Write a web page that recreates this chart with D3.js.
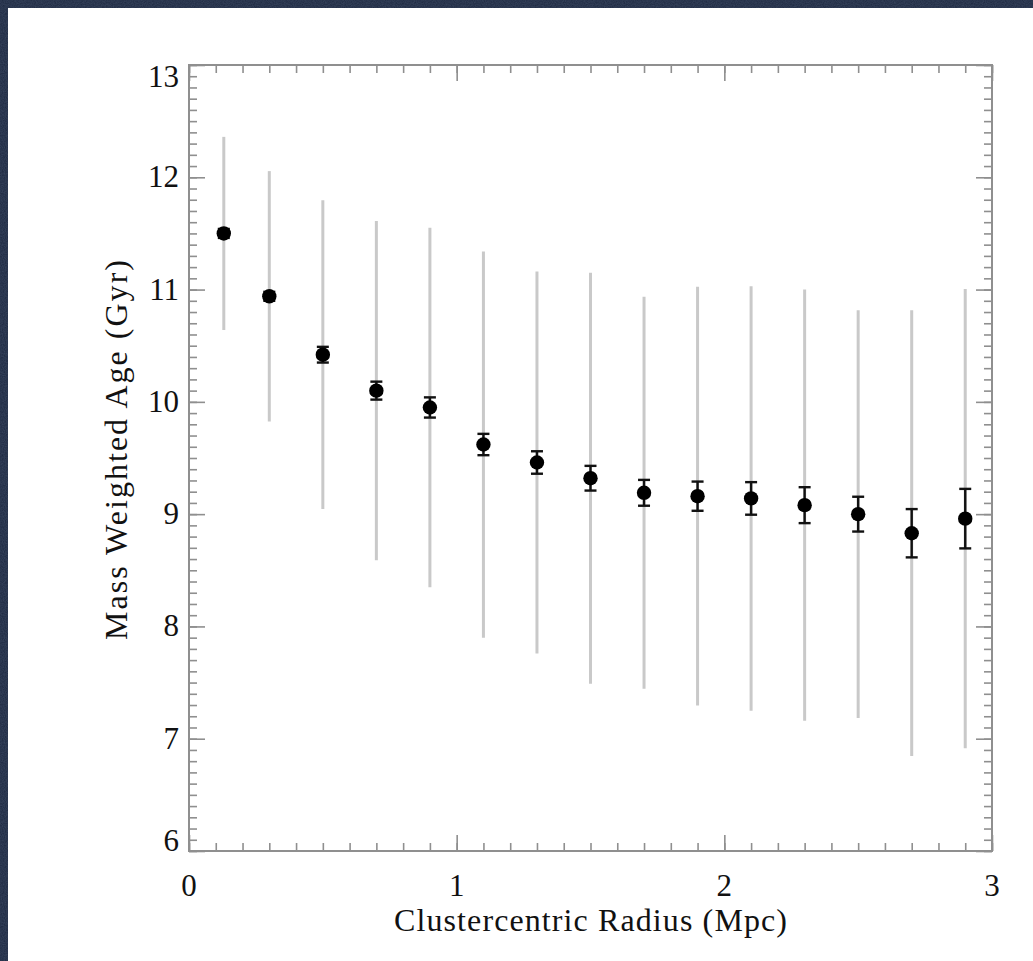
<!DOCTYPE html>
<html>
<head>
<meta charset="utf-8">
<script src="https://cdn.jsdelivr.net/npm/d3@7"></script>
<style>
  html, body { margin: 0; padding: 0; background: #1f2a42; }
  svg { display: block; }
</style>
</head>
<body>
<svg id="chart" width="1033" height="961"></svg>
<script>
// Mean mass-weighted age in radial bins around the cluster centre
const radius = [0.13, 0.3, 0.5, 0.7, 0.9, 1.1, 1.3, 1.5, 1.7, 1.9, 2.1, 2.3, 2.5, 2.7, 2.9];
const age = [11.50, 10.94, 10.42, 10.10, 9.95, 9.62, 9.46, 9.32, 9.19, 9.16, 9.14, 9.08, 9.00, 8.83, 8.96];
// error on the mean (black bars)
const ageErr = [0.04, 0.04, 0.07, 0.08, 0.09, 0.095, 0.10, 0.11, 0.115, 0.13, 0.145, 0.16, 0.155, 0.215, 0.265];
// scatter of the population (grey bars)
const ageScatter = [0.86, 1.115, 1.375, 1.51, 1.60, 1.72, 1.70, 1.83, 1.745, 1.865, 1.89, 1.92, 1.815, 1.985, 2.045];

const xTicks = [0, 1, 2, 3];
const yTicks = [6, 7, 8, 9, 10, 11, 12, 13];
const xTitle = "Clustercentric Radius (Mpc)";
const yTitle = "Mass Weighted Age (Gyr)";

const svg = d3.select("#chart");

// dark textured surround and white page
const defs = svg.append("defs");
const filt = defs.append("filter").attr("id", "grain");
filt.append("feTurbulence").attr("type", "fractalNoise").attr("baseFrequency", 0.9).attr("numOctaves", 2).attr("seed", 3);
filt.append("feColorMatrix").attr("type", "matrix")
  .attr("values", "0 0 0 0 0.16  0 0 0 0 0.22  0 0 0 0 0.33  0 0 0 0.55 0");
svg.append("rect").attr("width", 1033).attr("height", 961).attr("fill", "#1d2840");
svg.append("rect").attr("width", 1033).attr("height", 961).attr("filter", "url(#grain)").attr("opacity", 0.6);
svg.append("rect").attr("x", 8).attr("y", 8).attr("width", 1025).attr("height", 953).attr("fill", "#ffffff");

const plotLeft = 189, plotRight = 992, plotTop = 65, plotBottom = 851;
const x = d3.scaleLinear().domain([0, 3]).range([plotLeft, plotRight]);
const y = d3.scaleLinear().domain([6, 13]).range([plotBottom, plotTop]);

const axisColor = "#8f8f8f";
const xMinor = d3.range(0, 3.0001, 0.1).map(v => +v.toFixed(1));
const yMinor = d3.range(6, 13.0001, 0.1).map(v => +v.toFixed(1));

function styleAxis(g) {
  g.select(".domain").remove();
  g.selectAll(".tick line").attr("stroke", axisColor).attr("stroke-width", 1.6);
  g.selectAll(".tick text").remove();
}

// inward-pointing ticks on all four sides: minor then major
[[d3.axisBottom, `translate(0,${plotBottom})`, x, xMinor, xTicks],
 [d3.axisTop, `translate(0,${plotTop})`, x, xMinor, xTicks],
 [d3.axisLeft, `translate(${plotLeft},0)`, y, yMinor, yTicks],
 [d3.axisRight, `translate(${plotRight},0)`, y, yMinor, yTicks]].forEach(([gen, tr, sc, minor, major]) => {
  svg.append("g").attr("transform", tr)
    .call(gen(sc).tickValues(minor).tickSize(-8).tickFormat(""))
    .call(styleAxis);
  svg.append("g").attr("transform", tr)
    .call(gen(sc).tickValues(major).tickSize(-16).tickFormat(""))
    .call(styleAxis);
});

// frame
svg.append("rect")
  .attr("x", plotLeft).attr("y", plotTop)
  .attr("width", plotRight - plotLeft).attr("height", plotBottom - plotTop)
  .attr("fill", "none").attr("stroke", axisColor).attr("stroke-width", 2);

const font = "'Liberation Serif', 'Times New Roman', serif";

// tick labels
svg.append("g").selectAll("text").data(xTicks).join("text")
  .attr("x", d => x(d)).attr("y", 896)
  .attr("text-anchor", "middle")
  .attr("font-family", font).attr("font-size", 31).attr("fill", "#111")
  .text(d => d);

svg.append("g").selectAll("text").data(yTicks).join("text")
  .attr("x", 179)
  .attr("y", d => d === 13 ? y(d) + 22 : d === 6 ? y(d) : y(d) + 10)
  .attr("text-anchor", "end")
  .attr("font-family", font).attr("font-size", 31).attr("fill", "#111")
  .text(d => d);

// axis titles
svg.append("text")
  .attr("x", (plotLeft + plotRight) / 2).attr("y", 931)
  .attr("text-anchor", "middle")
  .attr("font-family", font).attr("font-size", 32).attr("fill", "#111")
  .attr("textLength", 393).attr("lengthAdjust", "spacing")
  .text(xTitle);

svg.append("text")
  .attr("transform", `translate(127,450) rotate(-90)`)
  .attr("text-anchor", "middle")
  .attr("font-family", font).attr("font-size", 32).attr("fill", "#111")
  .attr("textLength", 380).attr("lengthAdjust", "spacing")
  .text(yTitle);

const idx = d3.range(radius.length);

// population scatter
svg.append("g").selectAll("line").data(idx).join("line")
  .attr("x1", i => x(radius[i])).attr("x2", i => x(radius[i]))
  .attr("y1", i => y(age[i] + ageScatter[i])).attr("y2", i => y(age[i] - ageScatter[i]))
  .attr("stroke", "#c9c9c9").attr("stroke-width", 3);

// error on the mean with caps
const eg = svg.append("g").attr("stroke", "#111").attr("stroke-width", 2.4);
eg.selectAll("line.v").data(idx).join("line").attr("class", "v")
  .attr("x1", i => x(radius[i])).attr("x2", i => x(radius[i]))
  .attr("y1", i => y(age[i] + ageErr[i])).attr("y2", i => y(age[i] - ageErr[i]));
eg.selectAll("line.t").data(idx).join("line").attr("class", "t")
  .attr("x1", i => x(radius[i]) - 6).attr("x2", i => x(radius[i]) + 6)
  .attr("y1", i => y(age[i] + ageErr[i])).attr("y2", i => y(age[i] + ageErr[i]));
eg.selectAll("line.b").data(idx).join("line").attr("class", "b")
  .attr("x1", i => x(radius[i]) - 6).attr("x2", i => x(radius[i]) + 6)
  .attr("y1", i => y(age[i] - ageErr[i])).attr("y2", i => y(age[i] - ageErr[i]));

// mean points
svg.append("g").selectAll("circle").data(idx).join("circle")
  .attr("cx", i => x(radius[i])).attr("cy", i => y(age[i]))
  .attr("r", 7.2).attr("fill", "#000");
</script>
</body>
</html>
